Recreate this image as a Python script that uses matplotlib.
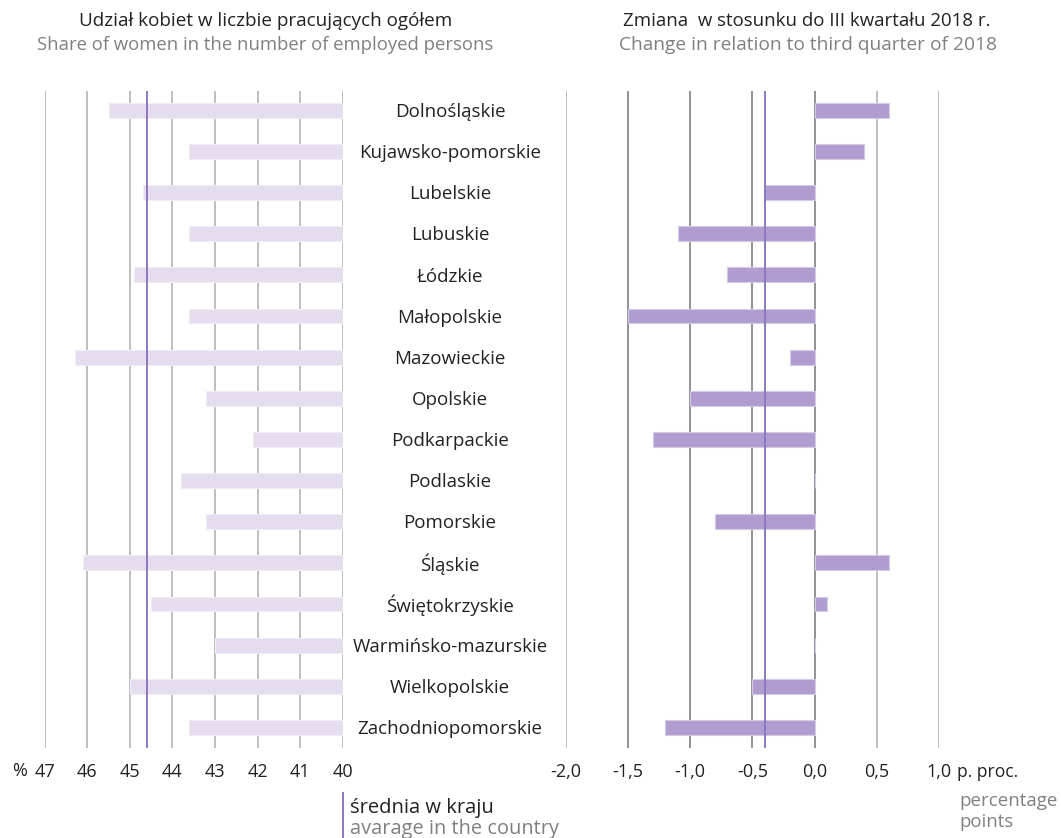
import matplotlib.pyplot as plt
import numpy as np

plt.rcParams['font.family'] = ['Open Sans', 'DejaVu Sans']

regions = ["Dolnośląskie", "Kujawsko-pomorskie", "Lubelskie", "Lubuskie", "Łódzkie",
           "Małopolskie", "Mazowieckie", "Opolskie", "Podkarpackie", "Podlaskie",
           "Pomorskie", "Śląskie", "Świętokrzyskie", "Warmińsko-mazurskie",
           "Wielkopolskie", "Zachodniopomorskie"]
share = [45.5, 43.6, 44.7, 43.6, 44.9, 43.6, 46.3, 43.2, 42.1, 43.8, 43.2, 46.1, 44.5, 43.0, 45.0, 43.6]
change = [0.6, 0.4, -0.4, -1.1, -0.7, -1.5, -0.2, -1.0, -1.3, 0.0, -0.8, 0.6, 0.1, 0.0, -0.5, -1.2]
share_avg = 44.6
change_avg = -0.4
left_ticks = [47, 46, 45, 44, 43, 42, 41, 40]
right_ticks = [-2.0, -1.5, -1.0, -0.5, 0.0, 0.5, 1.0]
right_dark = [-1.5, -1.0, -0.5, 0.0]

W, H = 1061, 838
fig = plt.figure(figsize=(W / 100, H / 100), dpi=100)
renderer = fig.canvas.get_renderer()

def frac(x0, x1, y0=91, y1=748):
    return [x0 / W, 1 - y1 / H, (x1 - x0) / W, (y1 - y0) / H]

def fit_text(x, y, s, width, ha='center', color='#222222', base=12):
    t = fig.text(x / W, 1 - y / H, s, ha=ha, va='center', fontsize=base, color=color)
    w = t.get_window_extent(renderer).width
    t.set_fontsize(base * width / w)
    return t

axL = fig.add_axes(frac(44.7, 342.7))
axR = fig.add_axes(frac(565.7, 939.0))

y = np.arange(len(regions))
bar_h = 0.36
avg_col = '#8b78c0'

for ax in (axL, axR):
    ax.set_ylim(15.5, -0.47)
    for s in ax.spines.values():
        s.set_visible(False)
    ax.tick_params(axis='both', length=0)
    ax.set_yticks([])

# left panel
axL.set_xlim(47, 40)
for t in left_ticks:
    axL.axvline(t, color='#b4b4b4', lw=1.2, zorder=0)
axL.barh(y, [s - 40 for s in share], left=40, height=bar_h, color='#e5ddee',
         edgecolor='#f1ecf6', lw=0.8, zorder=2)
axL.axvline(share_avg, color=avg_col, lw=1.4, zorder=3)
axL.set_xticks(left_ticks)
axL.set_xticklabels([str(t) for t in left_ticks], fontsize=13, color='#222222')
axL.tick_params(axis='x', pad=11)

# right panel
axR.set_xlim(-2.0, 1.0)
for t in right_ticks:
    axR.axvline(t, color='#808080' if t in right_dark else '#b4b4b4', lw=1.2, zorder=0)
axR.barh(y, change, height=bar_h, color='#b09dd0', edgecolor='#d5cbe6', lw=0.8, zorder=2)
axR.axvline(change_avg, color=avg_col, lw=1.4, zorder=3)
axR.set_xticks(right_ticks)
axR.set_xticklabels([f"{t:.1f}".replace('.', ',') for t in right_ticks], fontsize=13, color='#222222')
axR.tick_params(axis='x', pad=11)

# region labels
for i, r in enumerate(regions):
    yy = 112 + i * 41.13
    fig.text(450 / W, 1 - yy / H, r, ha='center', va='center', fontsize=13.5, color='#222222')

# titles
fit_text(266, 21, "Udział kobiet w liczbie pracujących ogółem", 372)
fit_text(265, 45, "Share of women in the number of employed persons", 455, color='#808080')
fit_text(807, 21, "Zmiana  w stosunku do III kwartału 2018 r.", 365)
fit_text(808, 45, "Change in relation to third quarter of 2018", 378, color='#808080')

# unit labels
fig.text(20 / W, 1 - 771 / H, "%", ha='center', va='center', fontsize=13, color='#222222')
fit_text(957, 772, "p. proc.", 61, ha='left')
fit_text(959, 801, "percentage", 98, ha='left', color='#808080')
fit_text(959, 822, "points", 54, ha='left', color='#808080')

# legend
fig.add_artist(plt.Line2D([343 / W, 343 / W], [1 - 793 / H, 1 - 838 / H], color=avg_col, lw=1.4))
fit_text(350, 808, "średnia w kraju", 143, ha='left')
fit_text(350, 829, "avarage in the country", 208, ha='left', color='#808080')

fig.savefig('out.png', dpi=100)
